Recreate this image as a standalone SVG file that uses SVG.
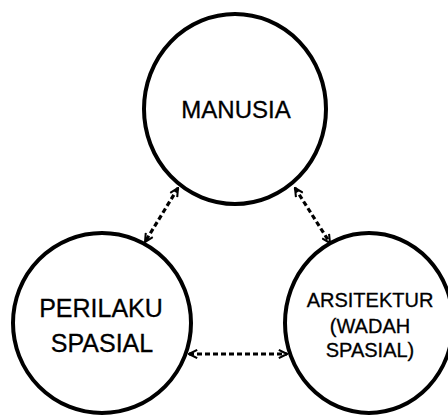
<svg xmlns="http://www.w3.org/2000/svg" width="448" height="416" viewBox="0 0 448 416">
  <style>
    .node { fill: #ffffff; stroke: #000000; stroke-width: 4; }
    .label { font-family: "Liberation Sans", Arial, sans-serif; fill: #000000; text-anchor: middle; stroke: #000000; stroke-width: 0.3; }
    .link { fill: none; stroke: #000000; stroke-width: 3.2; stroke-dasharray: 5 3; }
  </style>
  <defs>
    <!-- open chevron used at both ends of every dashed link -->
    <marker id="tip" viewBox="0 0 10 10" refX="9" refY="5" markerWidth="3.2" markerHeight="3.2" orient="auto-start-reverse" markerUnits="strokeWidth">
      <path d="M1,1 L9,5 L1,9" fill="none" stroke="#000" stroke-width="2"/>
    </marker>
  </defs>
  <rect width="448" height="416" fill="#ffffff"/>

  <g id="connectors">
    <line class="link" x1="178" y1="188" x2="145" y2="242" marker-start="url(#tip)" marker-end="url(#tip)"/>
    <line class="link" x1="295" y1="188" x2="330" y2="243" marker-start="url(#tip)" marker-end="url(#tip)"/>
    <line class="link" x1="189" y1="354" x2="287" y2="354" marker-start="url(#tip)" marker-end="url(#tip)"/>
  </g>

  <g id="manusia">
    <ellipse class="node" cx="235" cy="109" rx="91" ry="95"/>
    <text class="label" x="236" y="118" font-size="24">MANUSIA</text>
  </g>

  <g id="perilaku-spasial">
    <ellipse class="node" cx="102" cy="323" rx="89" ry="90"/>
    <text class="label" x="101" y="317" font-size="25">PERILAKU</text>
    <text class="label" x="102" y="352" font-size="25">SPASIAL</text>
  </g>

  <g id="arsitektur">
    <ellipse class="node" cx="369" cy="323" rx="84" ry="90"/>
    <text class="label" x="370" y="307" font-size="20">ARSITEKTUR</text>
    <text class="label" x="370" y="333" font-size="20">(WADAH</text>
    <text class="label" x="370" y="357" font-size="20">SPASIAL)</text>
  </g>
</svg>
